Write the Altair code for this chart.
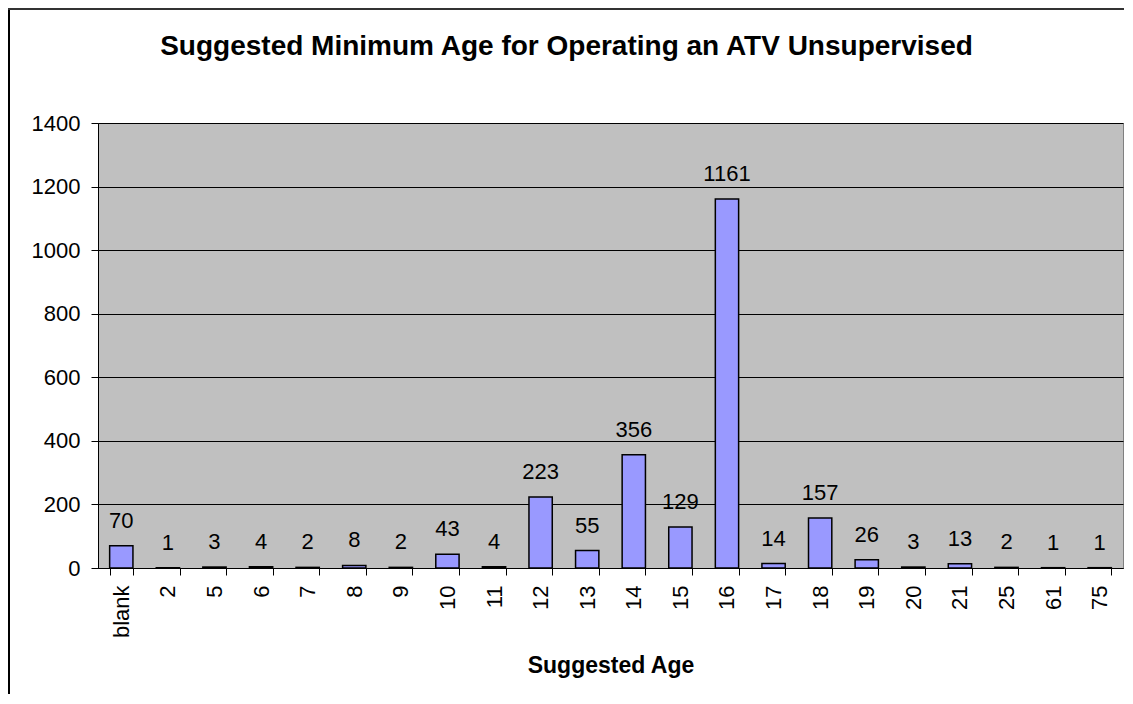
import altair as alt
import pandas as pd

categories = ["blank", "2", "5", "6", "7", "8", "9", "10", "11", "12", "13",
              "14", "15", "16", "17", "18", "19", "20", "21", "25", "61", "75"]
counts = [70, 1, 3, 4, 2, 8, 2, 43, 4, 223, 55, 356, 129, 1161, 14, 157, 26, 3, 13, 2, 1, 1]
y_ticks = [0, 200, 400, 600, 800, 1000, 1200, 1400]

df = pd.DataFrame({"age": categories, "count": counts})
FONT = "Liberation Sans"

x_enc = alt.X(
    "age:N", sort=categories, title="Suggested Age",
    scale=alt.Scale(paddingInner=0.5, paddingOuter=0.25),
    axis=alt.Axis(labelAngle=-90, tickBand="extent", tickSize=7, labelPadding=10,
                  titlePadding=17, titleFontSize=23, titleFontWeight="bold",
                  labelFontSize=22, domainColor="black", tickColor="black", grid=False),
)
y_enc = alt.Y(
    "count:Q", title=None,
    scale=alt.Scale(domain=[0, 1400], nice=False),
    axis=alt.Axis(values=y_ticks, format="d", tickSize=7, labelPadding=11, labelFontSize=22,
                  grid=True, gridColor="black", gridWidth=1, gridOpacity=1,
                  domainColor="black", tickColor="black"),
)

base = alt.Chart(df)
bars = base.mark_bar(fill="#9999FF", stroke="black", strokeWidth=1.5).encode(x=x_enc, y=y_enc)
labels = base.mark_text(fontSize=22, font=FONT, baseline="alphabetic", dy=-18, color="black").encode(
    x=alt.X("age:N", sort=categories), y=alt.Y("count:Q"), text="count:Q"
)

frame_df = pd.DataFrame({"k": [0]})
left_line = alt.Chart(frame_df).mark_rule(color="black", strokeWidth=2).encode(
    x=alt.value(-89), y=alt.value(-115), y2=alt.value(571)
)
top_line = alt.Chart(frame_df).mark_rule(color="#333333", strokeWidth=2).encode(
    x=alt.value(-90), x2=alt.value(1026), y=alt.value(-114)
)

chart = alt.layer(bars, labels, left_line, top_line).properties(
    width=1025,
    height=445,
    autosize=alt.AutoSizeParams(type="none"),
    padding={"left": 90, "top": 115, "right": 1, "bottom": 126},
    view=alt.ViewBackground(fill="#C0C0C0", stroke="#808080"),
    title=alt.Title("Suggested Minimum Age for Operating an ATV Unsupervised",
                    fontSize=28, font=FONT, fontWeight="bold", anchor="middle",
                    frame="group", dx=-44, offset=-54, color="black"),
).configure(background="white")

chart.save("out.html", embed_options={"renderer": "svg", "actions": False})
